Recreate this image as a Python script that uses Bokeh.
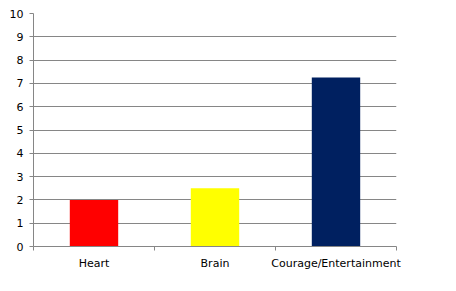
from bokeh.plotting import figure
from bokeh.models import Range1d, FixedTicker, ColumnDataSource
from bokeh.embed import file_html
from bokeh.resources import INLINE

categories = ["Heart", "Brain", "Courage/Entertainment"]
values = [2.0, 2.5, 7.25]
colors = ["#FF0000", "#FFFF00", "#002060"]
y_ticks = list(range(0, 11))

xs = [i + 0.5 for i in range(len(categories))]
src = ColumnDataSource(dict(x=xs, top=values, color=colors, name=categories))

p = figure(width=456, height=291, output_backend="svg", toolbar_location=None,
           x_range=Range1d(0, len(categories)), y_range=Range1d(0, 10),
           min_border_left=33, min_border_right=60, min_border_top=13, min_border_bottom=45)
p.outline_line_color = None
p.background_fill_color = "white"
p.border_fill_color = "white"

p.vbar(x="x", top="top", bottom=0, width=0.4, color="color", line_color=None, source=src)

grid_col = "#868686"
font = "DejaVu Sans"

# y axis
p.yaxis.ticker = FixedTicker(ticks=y_ticks, minor_ticks=[])
p.yaxis.axis_line_color = grid_col
p.yaxis.major_tick_line_color = grid_col
p.yaxis.major_tick_out = 4
p.yaxis.major_tick_in = 0
p.yaxis.minor_tick_line_color = None
p.yaxis.major_label_standoff = 6
p.yaxis.major_label_text_font = font
p.yaxis.major_label_text_font_size = "11px"
p.yaxis.major_label_text_color = "black"

# x axis
p.xaxis.ticker = FixedTicker(ticks=xs, minor_ticks=list(range(len(categories) + 1)))
p.xaxis.major_label_overrides = {x: c for x, c in zip(xs, categories)}
p.xaxis.axis_line_color = grid_col
p.xaxis.major_tick_line_color = None
p.xaxis.minor_tick_line_color = grid_col
p.xaxis.minor_tick_out = 4
p.xaxis.minor_tick_in = 0
p.xaxis.major_tick_out = 4
p.xaxis.major_tick_in = 0
p.xaxis.major_label_standoff = 6
p.xaxis.major_label_text_font = font
p.xaxis.major_label_text_font_size = "11px"
p.xaxis.major_label_text_color = "black"

p.xgrid.grid_line_color = None
p.ygrid.grid_line_color = grid_col
p.ygrid.grid_line_width = 1

open("out.html", "w").write(file_html(p, INLINE))
